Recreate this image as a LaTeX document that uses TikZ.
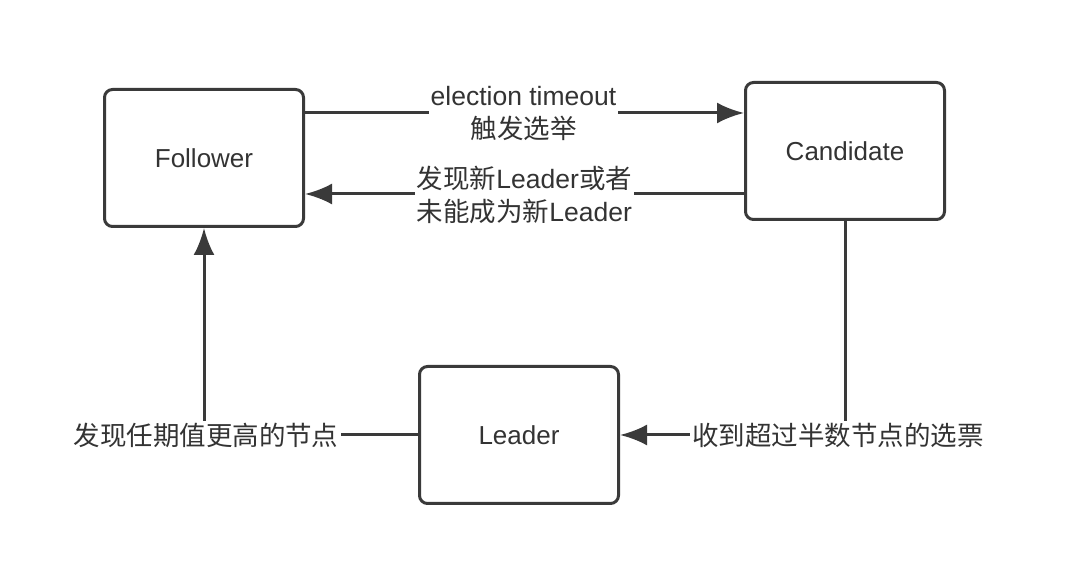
\documentclass[tikz,border=0pt]{standalone}
\usepackage{fontspec}
\setmainfont{Liberation Sans}
\newfontfamily\cjk{Noto Sans CJK SC}
\usetikzlibrary{positioning, arrows.meta}
\definecolor{line_gray}{HTML}{3A3A3A}
\definecolor{text_gray}{HTML}{333333}
\tikzset{
	state/.style={draw=line_gray, line width=3pt, rounded corners=8pt, minimum width=199pt, minimum height=137pt, text=text_gray, font=\fontsize{26}{31}\selectfont},
	flow/.style={draw=line_gray, line width=3pt, -{Latex[length=27pt,width=21pt]}},
	lbl/.style={fill=white, inner sep=2pt, align=center, text=text_gray, font=\fontsize{26.5}{33}\selectfont}
}

\begin{document}
\begin{tikzpicture}[x=1pt,y=1pt,line join=round]
		\useasboundingbox (0,0) rectangle (1090,572);
		% the three states
		\node[state] (follower)  at (204,414) {Follower};
		\node[state] (candidate) at (845,421) {Candidate};
		\node[state] (leader)    at (519,137) {Leader};
		% heights of the two upper lines
		\coordinate (up)   at (0,459);
		\coordinate (down) at (0,378);
		\draw[flow] (follower.east |- up) -- (candidate.west |- up)
			node[lbl, midway, xshift=-1pt, yshift=-1pt] {election timeout\\{\cjk 触发选举}};
		\draw[flow] (candidate.west |- down) -- (follower.east |- down)
			node[lbl, midway, yshift=-1pt] {{\cjk 发现新}Leader{\cjk 或者}\\{\cjk 未能成为新}Leader};
		\draw[flow] (candidate.south) |- (leader.east)
			node[lbl, pos=0.5, xshift=-7pt] {\cjk 收到超过半数节点的选票};
		\draw[flow] (leader.west) -| (follower.south)
			node[lbl, pos=0.5, xshift=2pt] {\cjk 发现任期值更高的节点};
	\end{tikzpicture}
\end{document}
